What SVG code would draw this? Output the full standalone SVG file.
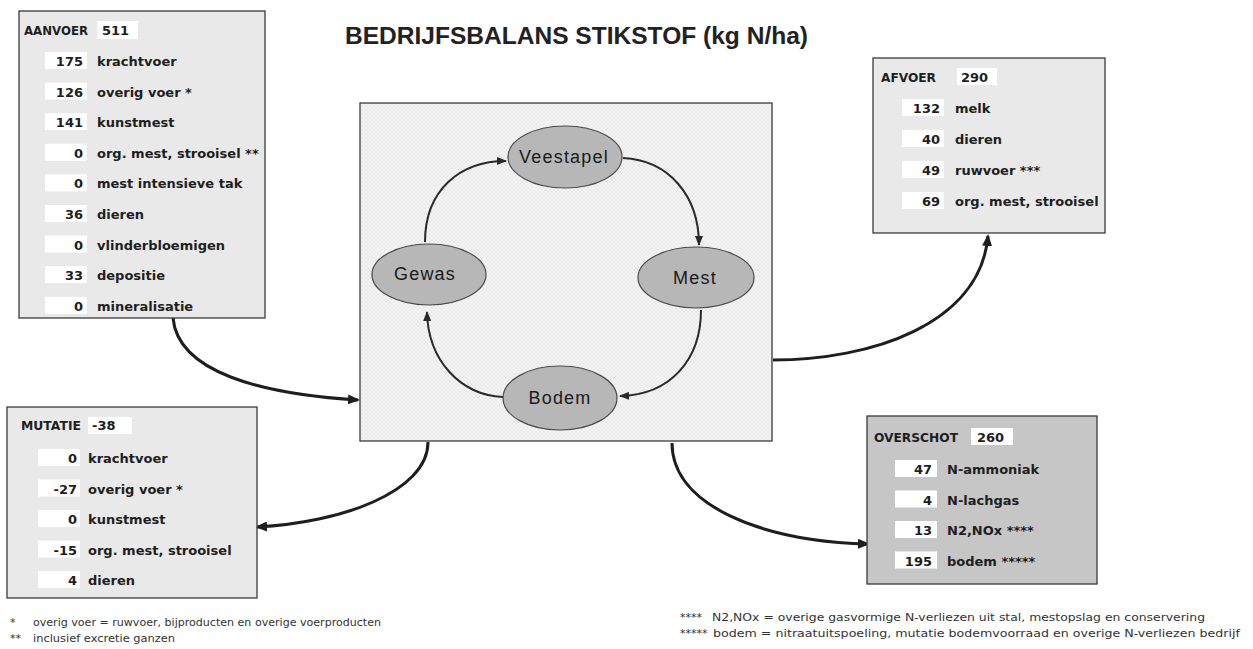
<svg xmlns="http://www.w3.org/2000/svg" width="1253" height="649" viewBox="0 0 1253 649">
  <defs>
    <style>
      .panel { fill: #e9e9e9; stroke: #3a3a3a; stroke-width: 1.3; }
      .panel-dark { fill: #c6c6c6; stroke: #3a3a3a; stroke-width: 1.3; }
      .val { fill: #ffffff; }
      .t { font-family: "DejaVu Sans", Verdana, sans-serif; font-weight: bold; font-size: 13px; fill: #1e1e1e; }
      .num { text-anchor: end; }
      .node { fill: #b7b7b7; stroke: #4a4a4a; stroke-width: 1.2; }
      .node-label { font-family: "Liberation Sans", Arial, sans-serif; font-size: 18px; letter-spacing: 1.2px; fill: #1a1a1a; text-anchor: middle; }
      .cycle { fill: none; stroke: #2a2a2a; stroke-width: 2; marker-end: url(#ah-s); }
      .flow { fill: none; stroke: #1e1e1e; stroke-width: 3; marker-end: url(#ah-l); }
      .note { font-family: "DejaVu Sans", Tahoma, sans-serif; font-size: 11px; fill: #333; }
      .title { font-family: "Liberation Sans", Arial, sans-serif; font-weight: bold; font-size: 23px; fill: #222; }
    </style>
    <pattern id="hatch" width="4" height="4" patternUnits="userSpaceOnUse">
      <rect width="4" height="4" fill="#f6f6f6"/>
      <path d="M0,0 L4,4 M4,0 L0,4" stroke="#e0e0e0" stroke-width="0.6"/>
    </pattern>
    <marker id="ah-s" markerUnits="userSpaceOnUse" markerWidth="10" markerHeight="8" refX="9" refY="4" orient="auto">
      <path d="M0,0 L10,4 L0,8 z" fill="#2a2a2a"/>
    </marker>
    <marker id="ah-l" markerUnits="userSpaceOnUse" markerWidth="12" markerHeight="10" refX="10" refY="5" orient="auto">
      <path d="M0,0 L12,5 L0,10 z" fill="#1e1e1e"/>
    </marker>
  </defs>

  <rect width="1253" height="649" fill="#ffffff"/>

  <!-- title -->
  <text class="title" x="345" y="44" textLength="463" lengthAdjust="spacingAndGlyphs">BEDRIJFSBALANS STIKSTOF (kg N/ha)</text>

  <!-- central cycle frame -->
  <g id="cycle-frame">
    <rect x="360" y="103" width="412" height="338" fill="url(#hatch)" stroke="#3a3a3a" stroke-width="1.3"/>
  </g>

  <!-- connectors -->
  <g id="connectors">
    <path class="cycle" d="M425,242 C425,190 460,161 506,161"/>
    <path class="cycle" d="M623,158 C668,160 699,195 699,245"/>
    <path class="cycle" d="M701,310 C701,360 670,395 620,396"/>
    <path class="cycle" d="M503,397 C460,395 428,360 427,312"/>
    <path class="flow" d="M173,318 C178,372 260,394 358,400"/>
    <path class="flow" d="M773,360 C870,360 980,325 988,236"/>
    <path class="flow" d="M428,442 C428,492 340,523 257,527"/>
    <path class="flow" d="M672,443 C672,505 760,541 868,544"/>
  </g>

  <!-- cycle nodes -->
  <g id="veestapel">
    <ellipse class="node" cx="565" cy="157" rx="57" ry="31"/>
    <text class="node-label" x="564" y="163">Veestapel</text>
  </g>
  <g id="mest">
    <ellipse class="node" cx="696" cy="277.5" rx="58" ry="30.5"/>
    <text class="node-label" x="695" y="284">Mest</text>
  </g>
  <g id="bodem">
    <ellipse class="node" cx="560" cy="398" rx="57" ry="32"/>
    <text class="node-label" x="560" y="404">Bodem</text>
  </g>
  <g id="gewas">
    <ellipse class="node" cx="429" cy="274.5" rx="57" ry="30.5"/>
    <text class="node-label" x="425" y="280">Gewas</text>
  </g>

  <!-- AANVOER -->
  <g id="aanvoer">
    <rect class="panel" x="19" y="11" width="246" height="307"/>
    <text class="t" x="24" y="35" textLength="64" lengthAdjust="spacingAndGlyphs">AANVOER</text>
    <rect class="val" x="97" y="21" width="41" height="18"/>
    <text class="t" x="102" y="35">511</text>

    <rect class="val" x="45" y="52" width="42" height="17"/>
    <text class="t num" x="83" y="66">175</text>
    <text class="t" x="97" y="66">krachtvoer</text>

    <rect class="val" x="45" y="82.6" width="42" height="17"/>
    <text class="t num" x="83" y="96.6">126</text>
    <text class="t" x="97" y="96.6">overig voer *</text>

    <rect class="val" x="45" y="113.2" width="42" height="17"/>
    <text class="t num" x="83" y="127.2">141</text>
    <text class="t" x="97" y="127.2">kunstmest</text>

    <rect class="val" x="45" y="143.8" width="42" height="17"/>
    <text class="t num" x="83" y="157.8">0</text>
    <text class="t" x="97" y="157.8">org. mest, strooisel **</text>

    <rect class="val" x="45" y="174.4" width="42" height="17"/>
    <text class="t num" x="83" y="188.4">0</text>
    <text class="t" x="97" y="188.4">mest intensieve tak</text>

    <rect class="val" x="45" y="205" width="42" height="17"/>
    <text class="t num" x="83" y="219">36</text>
    <text class="t" x="97" y="219">dieren</text>

    <rect class="val" x="45" y="235.6" width="42" height="17"/>
    <text class="t num" x="83" y="249.6">0</text>
    <text class="t" x="97" y="249.6">vlinderbloemigen</text>

    <rect class="val" x="45" y="266.2" width="42" height="17"/>
    <text class="t num" x="83" y="280.2">33</text>
    <text class="t" x="97" y="280.2">depositie</text>

    <rect class="val" x="45" y="296.8" width="42" height="17"/>
    <text class="t num" x="83" y="310.8">0</text>
    <text class="t" x="97" y="310.8">mineralisatie</text>
  </g>

  <!-- AFVOER -->
  <g id="afvoer">
    <rect class="panel" x="873" y="58" width="232" height="175"/>
    <text class="t" x="881" y="82" textLength="55" lengthAdjust="spacingAndGlyphs">AFVOER</text>
    <rect class="val" x="957" y="68" width="40" height="17"/>
    <text class="t" x="961" y="82">290</text>

    <rect class="val" x="902" y="99" width="42" height="17"/>
    <text class="t num" x="940" y="113">132</text>
    <text class="t" x="955" y="113">melk</text>

    <rect class="val" x="902" y="130" width="42" height="17"/>
    <text class="t num" x="940" y="144">40</text>
    <text class="t" x="955" y="144">dieren</text>

    <rect class="val" x="902" y="161" width="42" height="17"/>
    <text class="t num" x="940" y="175">49</text>
    <text class="t" x="955" y="175">ruwvoer ***</text>

    <rect class="val" x="902" y="192" width="42" height="17"/>
    <text class="t num" x="940" y="206">69</text>
    <text class="t" x="955" y="206">org. mest, strooisel</text>
  </g>

  <!-- MUTATIE -->
  <g id="mutatie">
    <rect class="panel" x="7" y="407" width="250" height="191"/>
    <text class="t" x="21" y="430" textLength="60" lengthAdjust="spacingAndGlyphs">MUTATIE</text>
    <rect class="val" x="88" y="417" width="44" height="17"/>
    <text class="t" x="92" y="430">-38</text>

    <rect class="val" x="38" y="449" width="42" height="17"/>
    <text class="t num" x="77" y="463">0</text>
    <text class="t" x="88" y="463">krachtvoer</text>

    <rect class="val" x="38" y="479.5" width="42" height="17"/>
    <text class="t num" x="77" y="493.5">-27</text>
    <text class="t" x="88" y="493.5">overig voer *</text>

    <rect class="val" x="38" y="510" width="42" height="17"/>
    <text class="t num" x="77" y="524">0</text>
    <text class="t" x="88" y="524">kunstmest</text>

    <rect class="val" x="38" y="540.5" width="42" height="17"/>
    <text class="t num" x="77" y="554.5">-15</text>
    <text class="t" x="88" y="554.5">org. mest, strooisel</text>

    <rect class="val" x="38" y="571" width="42" height="17"/>
    <text class="t num" x="77" y="585">4</text>
    <text class="t" x="88" y="585">dieren</text>
  </g>

  <!-- OVERSCHOT -->
  <g id="overschot">
    <rect class="panel-dark" x="867" y="416" width="230" height="168"/>
    <text class="t" x="874" y="442" textLength="84" lengthAdjust="spacingAndGlyphs">OVERSCHOT</text>
    <rect class="val" x="971" y="428" width="42" height="17"/>
    <text class="t" x="977" y="442">260</text>

    <rect class="val" x="895" y="460" width="42" height="17"/>
    <text class="t num" x="932" y="474">47</text>
    <text class="t" x="947" y="474">N-ammoniak</text>

    <rect class="val" x="895" y="490.5" width="42" height="17"/>
    <text class="t num" x="932" y="504.5">4</text>
    <text class="t" x="947" y="504.5">N-lachgas</text>

    <rect class="val" x="895" y="521" width="42" height="17"/>
    <text class="t num" x="932" y="535">13</text>
    <text class="t" x="947" y="535">N2,NOx ****</text>

    <rect class="val" x="895" y="551.5" width="42" height="17"/>
    <text class="t num" x="932" y="565.5">195</text>
    <text class="t" x="947" y="565.5">bodem *****</text>
  </g>

  <!-- footnotes -->
  <g id="footnotes">
    <text class="note" x="10" y="626">*</text>
    <text class="note" x="33" y="626" textLength="348" lengthAdjust="spacingAndGlyphs">overig voer = ruwvoer, bijproducten en overige voerproducten</text>
    <text class="note" x="10" y="642">**</text>
    <text class="note" x="33" y="642" textLength="142" lengthAdjust="spacingAndGlyphs">inclusief excretie ganzen</text>
    <text class="note" x="680" y="621">****</text>
    <text class="note" x="712" y="621" textLength="493" lengthAdjust="spacingAndGlyphs">N2,NOx = overige gasvormige N-verliezen uit stal, mestopslag en conservering</text>
    <text class="note" x="680" y="637">*****</text>
    <text class="note" x="713" y="637" textLength="527" lengthAdjust="spacingAndGlyphs">bodem = nitraatuitspoeling, mutatie bodemvoorraad en overige N-verliezen bedrijf</text>
  </g>
</svg>
